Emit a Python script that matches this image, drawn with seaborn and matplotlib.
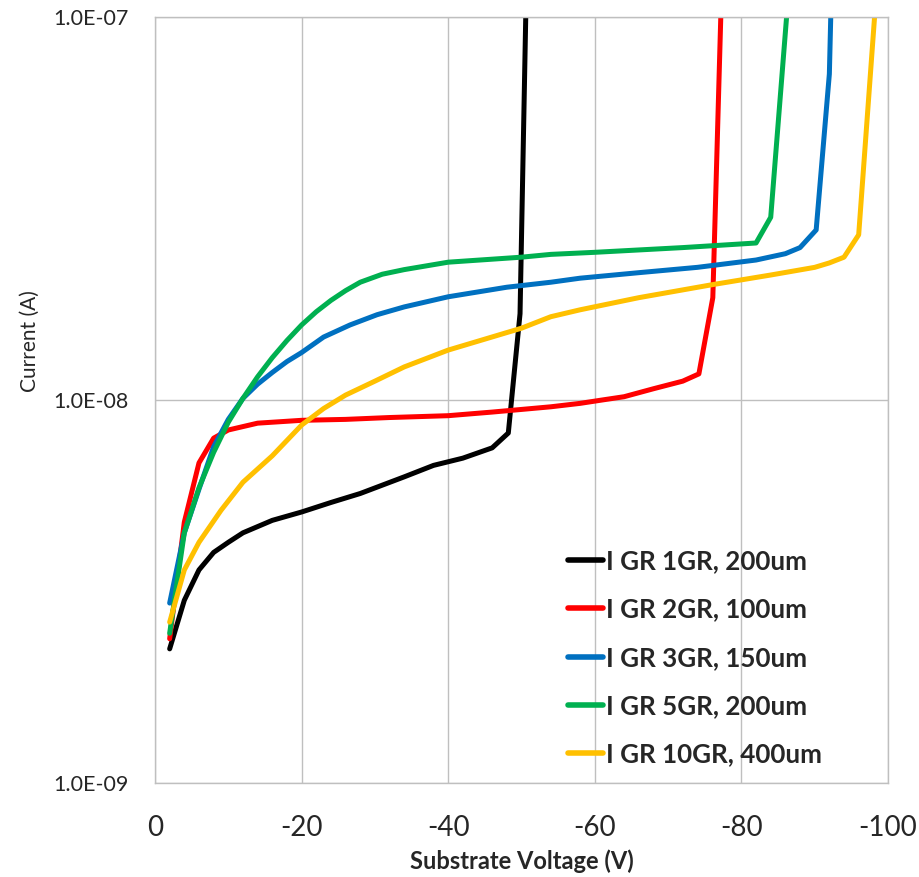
import pandas as pd
import seaborn as sns
import matplotlib.pyplot as plt
from matplotlib.ticker import FixedLocator, NullLocator

# series (voltage in V, current in A)
black_v = [-2, -4, -6, -8, -10, -12, -16, -20, -24, -28, -34, -38, -42, -46, -48.2, -49.8, -50.6]
black_i = [2.24e-9, 3.0e-9, 3.6e-9, 4.0e-9, 4.25e-9, 4.5e-9, 4.85e-9, 5.1e-9, 5.4e-9, 5.7e-9,
           6.3e-9, 6.75e-9, 7.05e-9, 7.5e-9, 8.2e-9, 1.68e-8, 1.05e-7]

red_v = [-2, -4, -6, -8, -10, -14, -20, -26, -32, -40, -46, -54, -58, -61, -64, -68, -72,
         -74.2, -76.1, -77.2]
red_i = [2.38e-9, 4.8e-9, 6.85e-9, 7.95e-9, 8.35e-9, 8.7e-9, 8.85e-9, 8.9e-9, 9.0e-9, 9.1e-9,
         9.3e-9, 9.6e-9, 9.8e-9, 1.0e-8, 1.02e-8, 1.07e-8, 1.12e-8, 1.17e-8, 1.85e-8, 1.02e-7]

blue_v = [-2, -4, -6, -8, -10, -12, -14, -16, -18, -20, -23, -26.6, -30.3, -34, -40, -48,
          -54, -58, -66, -74, -82, -86, -88, -90.2, -92, -92.2]
blue_i = [2.95e-9, 4.5e-9, 5.85e-9, 7.55e-9, 8.9e-9, 1.01e-8, 1.1e-8, 1.18e-8, 1.26e-8,
          1.33e-8, 1.46e-8, 1.57e-8, 1.67e-8, 1.75e-8, 1.86e-8, 1.97e-8, 2.03e-8, 2.08e-8,
          2.15e-8, 2.22e-8, 2.32e-8, 2.41e-8, 2.5e-8, 2.78e-8, 7.1e-8, 1.02e-7]

green_v = [-2, -4, -6, -8, -10, -12, -14, -16, -18, -20, -22, -24, -26, -28, -31, -34, -40,
           -50, -54, -60, -72, -82, -84, -86.2]
green_i = [2.46e-9, 4.5e-9, 5.9e-9, 7.3e-9, 8.75e-9, 1.01e-8, 1.15e-8, 1.29e-8, 1.43e-8,
           1.57e-8, 1.70e-8, 1.82e-8, 1.93e-8, 2.03e-8, 2.13e-8, 2.19e-8, 2.29e-8, 2.36e-8,
           2.4e-8, 2.43e-8, 2.5e-8, 2.57e-8, 3.0e-8, 1.02e-7]

yellow_v = [-2, -4, -6, -9, -12, -16, -20, -23, -26, -30, -34, -40, -50, -54, -58,
            -66, -76, -84, -90, -92, -94, -96, -98.2]
yellow_i = [2.63e-9, 3.6e-9, 4.25e-9, 5.15e-9, 6.1e-9, 7.15e-9, 8.6e-9, 9.5e-9,
            1.03e-8, 1.12e-8, 1.22e-8, 1.35e-8, 1.54e-8, 1.65e-8, 1.72e-8, 1.85e-8, 2.0e-8,
            2.12e-8, 2.22e-8, 2.28e-8, 2.36e-8, 2.7e-8, 1.02e-7]

labels = ["I GR 1GR, 200um", "I GR 2GR, 100um", "I GR 3GR, 150um",
          "I GR 5GR, 200um", "I GR 10GR, 400um"]
colors = ["#000000", "#FF0000", "#0070C0", "#00B050", "#FFC000"]
y_ticks = [1e-9, 1e-8, 1e-7]
y_tick_labels = ["1.0E-09", "1.0E-08", "1.0E-07"]
x_ticks = [0, -20, -40, -60, -80, -100]

series = [(black_v, black_i), (red_v, red_i), (blue_v, blue_i),
          (green_v, green_i), (yellow_v, yellow_i)]
frames = []
for lab, (v, i) in zip(labels, series):
    frames.append(pd.DataFrame({"V": v, "I": i, "curve": lab}))
df = pd.concat(frames, ignore_index=True)

sns.set_style("white")
plt.rcParams["font.family"] = ["Lato", "DejaVu Sans"]

fig = plt.figure(figsize=(9.2, 8.77), dpi=100)
ax = fig.add_axes([155 / 920, 94 / 877, 733 / 920, 766 / 877])

sns.lineplot(data=df, x="V", y="I", hue="curve", palette=colors, hue_order=labels,
             sort=False, estimator=None, linewidth=3.6, ax=ax)

ax.set_yscale("log")
ax.set_ylim(1e-9, 1e-7)
ax.set_xlim(0, -100)
ax.yaxis.set_major_locator(FixedLocator(y_ticks))
ax.yaxis.set_minor_locator(NullLocator())
ax.set_yticklabels(y_tick_labels, fontsize=15.5)
ax.set_xticks(x_ticks)
ax.set_xticklabels([str(t) for t in x_ticks], fontsize=20)
ax.tick_params(axis="x", length=0, pad=23)
ax.tick_params(axis="y", length=0, pad=19)

ax.grid(True, color="#BFBFBF", linewidth=1)
for s in ax.spines.values():
    s.set_color("#BFBFBF")
    s.set_linewidth(1)

ax.set_xlabel("Substrate Voltage (V)", fontsize=17, fontweight="bold", labelpad=6)
ax.set_ylabel("Current (A)", fontsize=15)
ax.yaxis.set_label_coords(-0.157, 0.577)

leg = ax.legend(loc="upper left", bbox_to_anchor=(0.5634, 0.305), frameon=False,
                borderpad=0, borderaxespad=0, handlelength=1.35, handletextpad=0.1,
                labelspacing=0.93, prop={"family": "Lato", "weight": "bold", "size": 18.7})
for h in leg.get_lines():
    h.set_linewidth(4)

fig.savefig("out.png", dpi=100)
